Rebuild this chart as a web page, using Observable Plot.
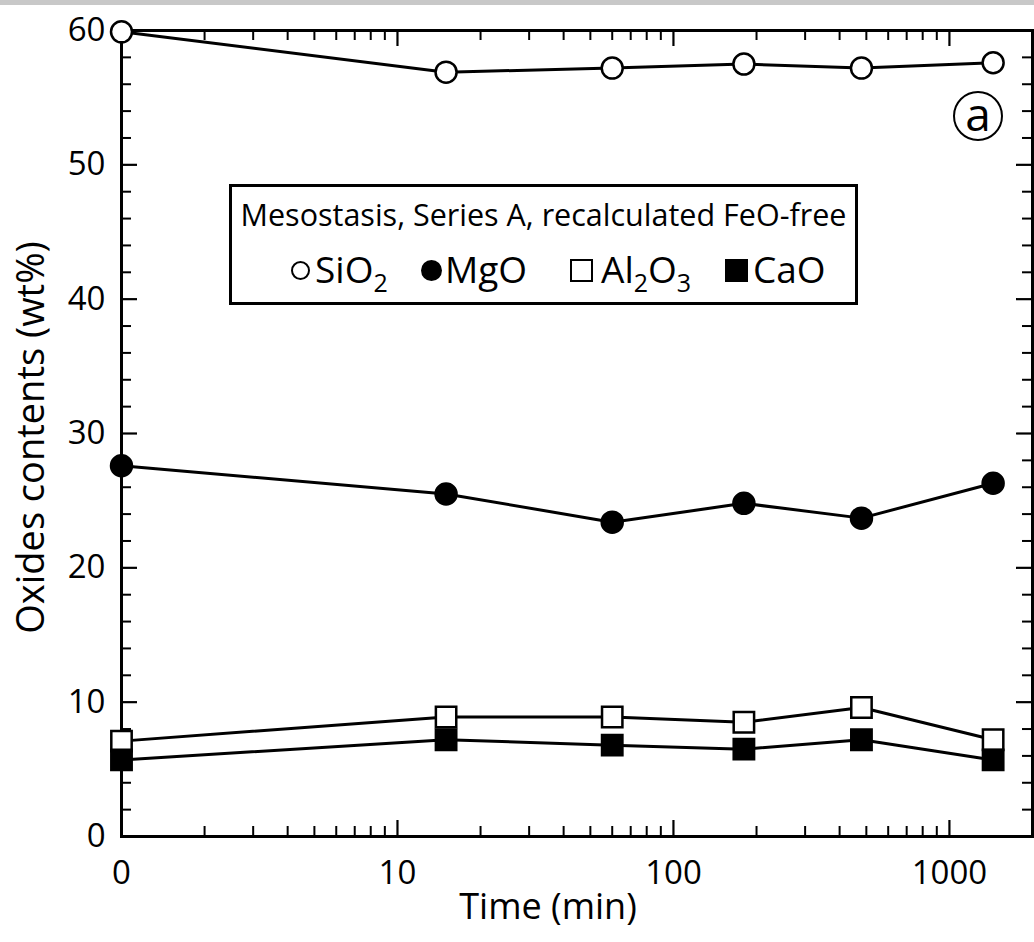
<!DOCTYPE html>
<html><head><meta charset="utf-8">
<script src="https://cdn.jsdelivr.net/npm/d3@7"></script>
<script src="https://cdn.jsdelivr.net/npm/@observablehq/plot@0.6"></script>
<style>
body{margin:0;background:#fff;font-family:"Open Sans",sans-serif;color:#000;}
#wrap{position:relative;width:1034px;height:942px;overflow:hidden;}
#band{position:absolute;left:0;top:0;width:1034px;height:5px;background:#c8c8c8;}
#legend{position:absolute;left:229px;top:184px;width:623px;height:115px;border:3px solid #000;background:#fff;}
#ltitle{position:absolute;left:0;width:623px;top:12px;text-align:center;font-size:30.5px;line-height:1;white-space:nowrap;}
.abs{position:absolute;white-space:nowrap;line-height:1;}
.txt{font-size:37px;top:63px;}
.sym{box-sizing:border-box;}
.sub{font-size:25px;position:relative;top:9px;}
#tag{position:absolute;left:953px;top:91px;width:50px;height:50px;box-sizing:border-box;border:2.5px solid #000;border-radius:50%;text-align:center;font-size:46px;line-height:40px;}
</style></head>
<body><div id="wrap"><div id="band"></div><div id="chart"></div>
<div id="legend"><div id="ltitle">Mesostasis, Series A, recalculated FeO-free</div>
<span class="abs sym" style="left:59px;top:74px;width:19px;height:19px;border:2px solid #000;border-radius:50%"></span>
<span class="abs txt" style="left:83px">SiO<span class="sub">2</span></span>
<span class="abs sym" style="left:189px;top:73px;width:21px;height:21px;background:#000;border-radius:50%"></span>
<span class="abs txt" style="left:213px">MgO</span>
<span class="abs sym" style="left:338px;top:72px;width:23px;height:23px;border:2px solid #000;"></span>
<span class="abs txt" style="left:369px">Al<span class="sub">2</span>O<span class="sub">3</span></span>
<span class="abs sym" style="left:493px;top:72px;width:23px;height:23px;background:#000;"></span>
<span class="abs txt" style="left:521px">CaO</span>
</div>
<div id="tag">a</div>
</div>
<script>
// Data (time in minutes; "0" min is drawn at the left edge of the log axis)
const times = [0, 15, 60, 180, 480, 1440];
const SiO2  = [59.9, 56.9, 57.2, 57.5, 57.2, 57.6];
const MgO   = [27.6, 25.5, 23.4, 24.8, 23.7, 26.3];
const Al2O3 = [7.1, 8.9, 8.9, 8.5, 9.6, 7.2];
const CaO   = [5.7, 7.2, 6.8, 6.5, 7.2, 5.7];
const xTickValues = [1, 10, 100, 1000];
const xTickLabels = ["0", "10", "100", "1000"];
const yTickValues = [0, 10, 20, 30, 40, 50, 60];

const X_ZERO = 1; // log-axis position used for t = 0
const xDomain = [1, 2000];
const xMinor = [];
for (let e = 0; e <= 3; e++) for (let m = 2; m <= 9; m++) { const v = m * 10 ** e; if (v < xDomain[1]) xMinor.push(v); }
const yMinor = d3.range(0, 61, 2).filter(v => v % 10 !== 0);

const series = [
  {name: "SiO2", values: SiO2, symbol: "circle", fill: "white"},
  {name: "MgO", values: MgO, symbol: "circle", fill: "black"},
  {name: "Al2O3", values: Al2O3, symbol: "square", fill: "white"},
  {name: "CaO", values: CaO, symbol: "square", fill: "black"}
];
const rows = series.flatMap(s => times.map((t, i) => ({series: s.name, x: t === 0 ? X_ZERO : t, y: s.values[i], symbol: s.symbol, fill: s.fill})));
const circles = rows.filter(d => d.symbol === "circle");
const squares = rows.filter(d => d.symbol === "square");

const W = 1034, H = 942, mL = 121, mR = 2, mT = 30, mB = 106;
const pw = W - mL - mR, ph = H - mT - mB;
const majL = 16, minL = 10;

const chart = Plot.plot({
  width: W, height: H, marginLeft: mL, marginRight: mR, marginTop: mT, marginBottom: mB,
  style: {fontFamily: "'Open Sans', sans-serif", background: "transparent", color: "#000"},
  x: {type: "log", domain: xDomain},
  y: {domain: [0, 60]},
  marks: [
    // inward ticks on all four sides
    Plot.tickX(xTickValues, {x: d => d, insetTop: ph - majL, strokeWidth: 2.2}),
    Plot.tickX(xTickValues, {x: d => d, insetBottom: ph - majL, strokeWidth: 2.2}),
    Plot.tickX(xMinor, {x: d => d, insetTop: ph - minL, strokeWidth: 2}),
    Plot.tickX(xMinor, {x: d => d, insetBottom: ph - minL, strokeWidth: 2}),
    Plot.tickY(yTickValues, {y: d => d, insetRight: pw - majL, strokeWidth: 2.2}),
    Plot.tickY(yTickValues, {y: d => d, insetLeft: pw - majL, strokeWidth: 2.2}),
    Plot.tickY(yMinor, {y: d => d, insetRight: pw - minL, strokeWidth: 2}),
    Plot.tickY(yMinor, {y: d => d, insetLeft: pw - minL, strokeWidth: 2}),
    Plot.frame({stroke: "#000", strokeWidth: 3}),
    Plot.axisX(xTickValues, {tickSize: 0, tickPadding: 24, fontSize: 33, tickFormat: d => xTickLabels[xTickValues.indexOf(d)], label: null}),
    Plot.axisY(yTickValues, {tickSize: 0, tickPadding: 16, fontSize: 33, label: null}),
    Plot.text(["Time (min)"], {frameAnchor: "bottom", textAnchor: "middle", dy: 82, dx: -29, fontSize: 36}),
    Plot.text(["Oxides contents (wt%)"], {frameAnchor: "left", textAnchor: "middle", rotate: -90, dx: -90, dy: 4, fontSize: 38}),
    Plot.line(rows, {x: "x", y: "y", z: "series", stroke: "#000", strokeWidth: 3}),
    Plot.dot(circles, {x: "x", y: "y", symbol: "circle", fill: "fill", stroke: "#000", strokeWidth: 2.5, r: 10.5}),
    Plot.dot(squares, {x: "x", y: "y", symbol: "square", fill: "fill", stroke: "#000", strokeWidth: 2.5, r: 11.5})
  ]
});
document.getElementById("chart").appendChild(chart);
</script>
</body></html>
